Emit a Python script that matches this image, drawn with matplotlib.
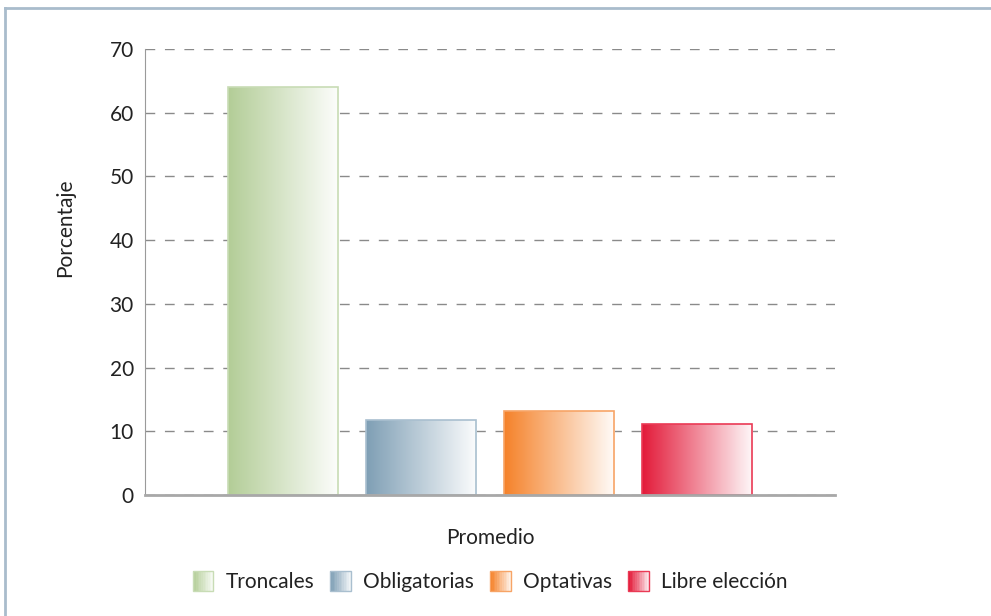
import numpy as np
import matplotlib
matplotlib.use("Agg")
import matplotlib.pyplot as plt
from matplotlib.colors import LinearSegmentedColormap
from matplotlib.patches import Rectangle
from matplotlib.legend_handler import HandlerBase
from matplotlib.lines import Line2D

plt.rcParams['font.family'] = ['Lato', 'DejaVu Sans']

categorias = ['Troncales', 'Obligatorias', 'Optativas', 'Libre elección']
valores = [64.0, 11.8, 13.2, 11.1]
colores = ['#b3cd97', '#7f9fb5', '#f5822a', '#e31b3a']
bordes = ['#c8dcb5', '#a9bfcf', '#f7a466', '#ea3a55']
yticks = [0, 10, 20, 30, 40, 50, 60, 70]

fig = plt.figure(figsize=(9.91, 6.16), dpi=100)

# marco azul claro
fig.add_artist(Line2D([0.005, 1.0], [1 - 8 / 616, 1 - 8 / 616], color='#a9bccc', lw=2))
fig.add_artist(Line2D([5 / 991, 5 / 991], [0, 1 - 8 / 616], color='#a9bccc', lw=2))

ax = fig.add_axes([145 / 991, 121 / 616, 690 / 991, 446 / 616])

x = np.arange(1, len(valores) + 1)
ancho = 0.8


def cmap_de(c):
    return LinearSegmentedColormap.from_list('g', [c, '#ffffff'])


grad = np.linspace(0, 0.97, 256).reshape(1, -1)
for xi, v, c, b in zip(x, valores, colores, bordes):
    rect = Rectangle((xi - ancho / 2, 0), ancho, v, facecolor='none',
                     edgecolor=b, lw=1.2, zorder=3)
    ax.add_patch(rect)
    im = ax.imshow(grad, cmap=cmap_de(c), aspect='auto', vmin=0, vmax=1,
                   extent=(xi - ancho / 2, xi + ancho / 2, 0, v), zorder=2,
                   interpolation='bilinear')
    im.set_clip_path(rect)

ax.set_xlim(0, 5)
ax.set_ylim(0, 70)
ax.set_yticks(yticks)
ax.set_xticks([])
ax.tick_params(axis='y', length=0, pad=8, labelsize=15, colors='#222222')
ax.yaxis.grid(True, linestyle=(0, (7, 7)), color='#8a8a8a', lw=1)
ax.set_axisbelow(True)
for s in ['top', 'right']:
    ax.spines[s].set_visible(False)
ax.spines['left'].set_color('#9a9a9a')
ax.spines['bottom'].set_color('#a8a8a8')
ax.spines['bottom'].set_linewidth(2)
ax.spines['bottom'].set_zorder(4)

ax.set_ylabel('Porcentaje', fontsize=15, color='#222222')
ax.yaxis.set_label_coords(-0.101, 0.599)
ax.set_xlabel('Promedio', fontsize=15, color='#222222', labelpad=24)


class HandlerGrad(HandlerBase):
    def __init__(self, c, b):
        super().__init__()
        self.c = c
        self.b = b

    def create_artists(self, legend, orig, xd, yd, w, h, fs, trans):
        arts = []
        n = 12
        cm = cmap_de(self.c)
        side = h * 1.4
        x0 = xd + w - side
        y0 = yd + (h - side) / 2
        for i in range(n):
            r = Rectangle((x0 + side * i / n, y0), side / n, side,
                          facecolor=cm(i / n * 0.95), edgecolor='none', transform=trans)
            arts.append(r)
        arts.append(Rectangle((x0, y0), side, side, facecolor='none',
                              edgecolor=self.b, lw=1, transform=trans))
        return arts


handles = [Rectangle((0, 0), 1, 1) for _ in categorias]
hmap = {h: HandlerGrad(c, b) for h, c, b in zip(handles, colores, bordes)}
fig.legend(handles, categorias, handler_map=hmap, loc='center',
           bbox_to_anchor=(490 / 991, 1 - 582 / 616), ncol=4, frameon=False,
           fontsize=15, handlelength=1.0, handletextpad=0.6, columnspacing=0.75,
           labelcolor='#222222')

fig.savefig('out.png', dpi=100)
